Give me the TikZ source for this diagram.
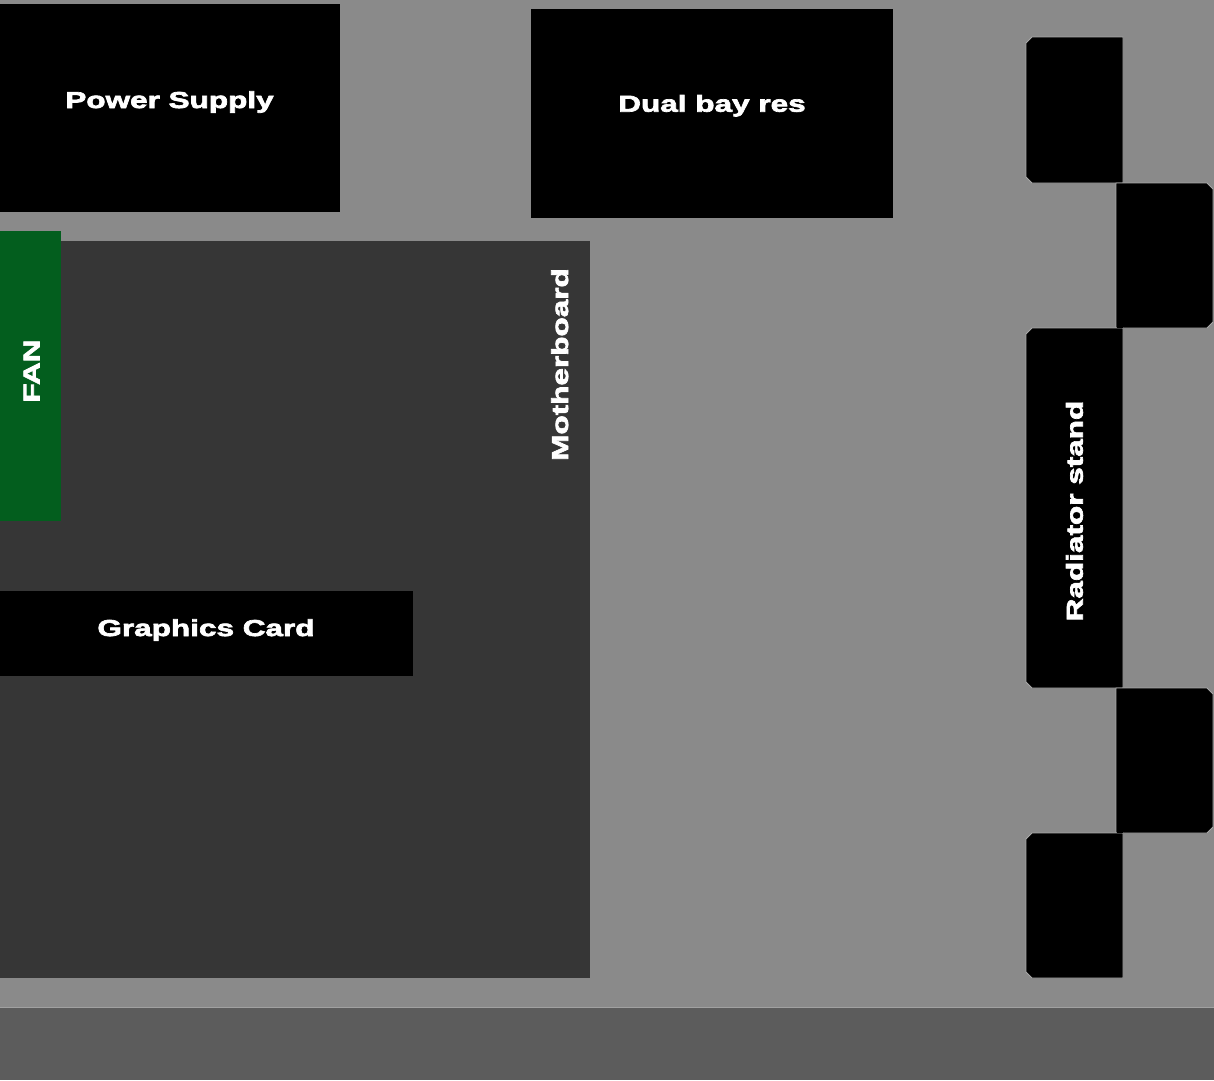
\documentclass[tikz,border=0pt]{standalone}
\usepackage{fontspec}
\newfontfamily\widefont[FakeStretch=1.37,FakeBold=3]{Liberation Sans Bold}
\definecolor{bggray}{HTML}{8A8A8A}
\definecolor{mbgray}{HTML}{363636}
\definecolor{bandgray}{HTML}{5C5C5C}
\definecolor{fangreen}{HTML}{035E1E}
\definecolor{edgegray}{HTML}{A8A8A8}
\tikzset{
  part/.style={fill=black, draw=none, inner sep=0pt, outer sep=0pt, anchor=north west},
  standblock/.style={fill=black, draw=edgegray, line width=0.8pt},
  lbl/.style={text=white, font=\widefont\fontsize{23}{26}\selectfont, inner sep=0pt, anchor=base},
}
\begin{document}
\begin{tikzpicture}[x=1pt, y=-1pt]
\useasboundingbox (0,0) rectangle (1214,1080);
\fill[bggray] (0,0) rectangle (1214,1080);
\fill[bandgray] (0,1007) rectangle (1214,1080);
\draw[bggray!80!white, line width=0.8pt] (0,1007) -- (1214,1007);
% boxes
\node[part, minimum width=340pt, minimum height=208pt] (psu) at (0,4) {};
\node[part, minimum width=362pt, minimum height=209pt] (res) at (531,9) {};
\node[part, fill=mbgray, minimum width=590pt, minimum height=737pt] (mb) at (0,241) {};
\node[part, fill=fangreen, minimum width=61pt, minimum height=290pt] (fan) at (0,231) {};
\node[part, minimum width=413pt, minimum height=85pt] (gpu) at (0,591) {};
% radiator stand blocks (chamfered outer corners)
\draw[standblock] (1032,37) -- (1123,37) -- (1123,183) -- (1032,183) -- (1026,177) -- (1026,43) -- cycle;
\draw[standblock] (1116,183) -- (1207,183) -- (1213,189) -- (1213,322) -- (1207,328) -- (1116,328) -- cycle;
\draw[standblock] (1032,328) -- (1123,328) -- (1123,688) -- (1032,688) -- (1026,682) -- (1026,334) -- cycle;
\draw[standblock] (1116,688) -- (1207,688) -- (1213,694) -- (1213,827) -- (1207,833) -- (1116,833) -- cycle;
\draw[standblock] (1032,833) -- (1123,833) -- (1123,978) -- (1032,978) -- (1026,972) -- (1026,839) -- cycle;
\fill[black] (1117,183.5) rectangle (1122.5,327.5);
\fill[black] (1117,688.5) rectangle (1122.5,832.5);
% labels
\node[lbl] (psut) at (169.5,108) {Power Supply};
\node[lbl] (rest) at (712,111.7) {Dual bay res};
\node[lbl] (gput) at (206,636) {Graphics Card};
\node[lbl, rotate=90] (mbt) at (568,364.5) {Motherboard};
\node[lbl, rotate=90] (fant) at (39.5,371) {FAN};
\node[lbl, rotate=90] (radt) at (1082.7,511) {Radiator stand};
\end{tikzpicture}
\end{document}
